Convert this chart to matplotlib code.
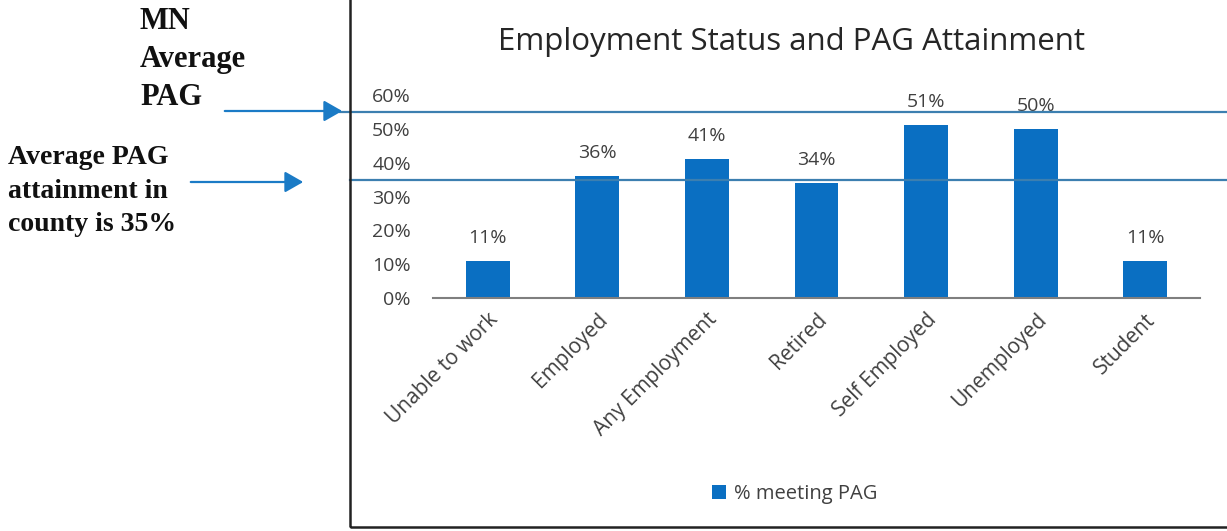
import matplotlib
matplotlib.use("Agg")
import matplotlib.pyplot as plt
import matplotlib.transforms as mtransforms
from matplotlib.patches import FancyArrowPatch, Rectangle
import numpy as np

# data
categories = ["Unable to work", "Employed", "Any Employment", "Retired",
              "Self Employed", "Unemployed", "Student"]
pct_meeting_pag = [11, 36, 41, 34, 51, 50, 11]
yticks = [0, 10, 20, 30, 40, 50, 60]
mn_average = 55
county_average = 35

W, H = 1227, 531
BAR = "#0a6fc2"
LINE = "#3c7fb0"
ARROW = "#1b7bc6"
GREY = "#404040"


def fx(px):
    return px / W


def fy(py):
    return (H - py) / H


fig = plt.figure(figsize=(W / 100, H / 100), dpi=100)
fig.patch.set_facecolor("white")

# chart box (left and bottom border visible, rest cut off)
fig.add_artist(Rectangle((fx(350), fy(527)), fx(W - 350) + 0.01, fy(0) - fy(527) + 0.01,
                         transform=fig.transFigure, fill=False, edgecolor="#222222",
                         linewidth=1.8, clip_on=False))

ax = fig.add_axes([fx(433), fy(298), fx(1200) - fx(433), fy(95) - fy(298)])
x = np.arange(len(categories))
vals = np.array(pct_meeting_pag)
bars = ax.bar(x, vals, width=0.4, color=BAR, label="% meeting PAG", zorder=2)

ax.set_xlim(-0.5, len(categories) - 0.5)
ax.set_ylim(0, 60)
ax.set_yticks(yticks)
ax.set_yticklabels([f"{t}%" for t in yticks], fontsize=14, color=GREY, family="Open Sans")
ax.set_xticks(x)
ax.set_xticklabels(categories, rotation=45, ha="right", rotation_mode="anchor",
                   fontsize=15, color=GREY, family="Open Sans")
ax.tick_params(axis="both", length=0)
ax.tick_params(axis="y", pad=16)
ax.tick_params(axis="x", pad=8)
for side in ["top", "right", "left"]:
    ax.spines[side].set_visible(False)
ax.spines["bottom"].set_color("#7f7f7f")
ax.spines["bottom"].set_linewidth(1.5)

for xi, v in zip(x, vals):
    ax.text(xi, v + 4.2, f"{v}%", ha="center", va="bottom", fontsize=14,
            color=GREY, family="Open Sans")

# reference lines spanning the whole chart box
trans = mtransforms.blended_transform_factory(ax.transAxes, ax.transData)
x0 = (340 - 433) / (1200 - 433)
x0b = (350 - 433) / (1200 - 433)
x1 = (W - 433) / (1200 - 433)
ax.plot([x0, x1], [mn_average, mn_average], transform=trans, color=LINE,
        linewidth=1.6, clip_on=False, zorder=3)
ax.plot([x0b, x1], [county_average, county_average], transform=trans, color=LINE,
        linewidth=1.6, clip_on=False, zorder=3)

fig.text(fx(792), fy(42), "Employment Status and PAG Attainment", ha="center",
         va="center", fontsize=22.5, color="#262626", family="Open Sans")

leg = ax.legend(loc="center", bbox_to_anchor=(fx(795), fy(494)),
                bbox_transform=fig.transFigure, frameon=False, handlelength=0.7,
                handleheight=0.75, handletextpad=0.4,
                prop={"family": "Open Sans", "size": 14.5})
for t in leg.get_texts():
    t.set_color(GREY)

# annotations on the left
fig.text(fx(140), fy(7), "MN\nAverage\nPAG", ha="left", va="top", fontsize=22,
         fontweight="bold", family="Liberation Serif", linespacing=1.42, color="#111111")
fig.text(fx(8), fy(145), "Average PAG\nattainment in\ncounty is 35%", ha="left",
         va="top", fontsize=20, fontweight="bold", family="Liberation Serif",
         linespacing=1.45, color="#111111")

for (xs, xe, yy) in [(222, 345, 111), (188, 306, 182)]:
    fig.add_artist(FancyArrowPatch((fx(xs), fy(yy)), (fx(xe), fy(yy)),
                                   transform=fig.transFigure,
                                   arrowstyle="-|>,head_length=7,head_width=4",
                                   color=ARROW, linewidth=1.6, mutation_scale=1.6))

fig.savefig("out.png", dpi=100)
